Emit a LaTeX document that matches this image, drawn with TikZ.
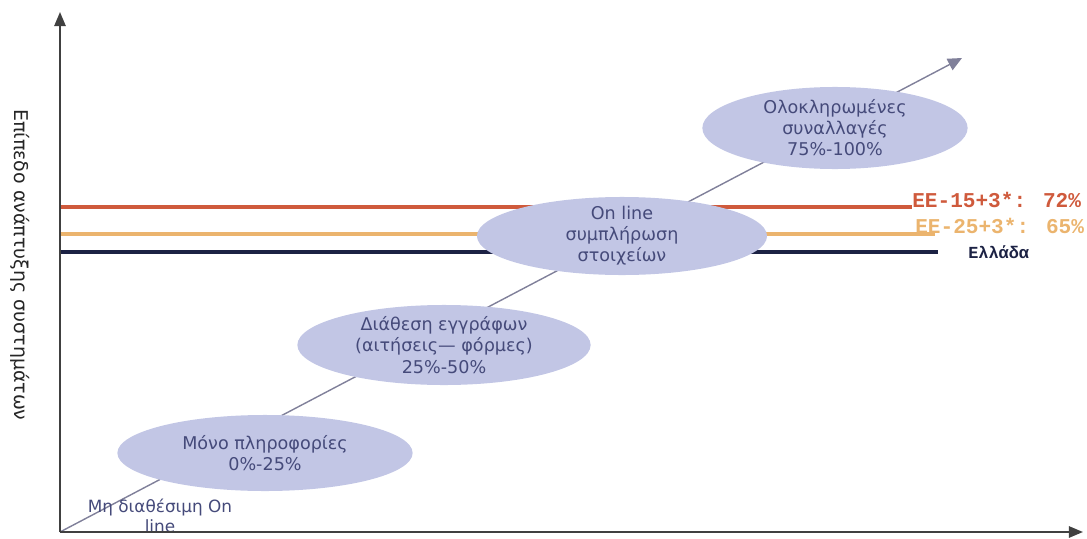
\documentclass[tikz,border=0pt]{standalone}
\usepackage{fontspec}
\setmainfont{DejaVu Sans}
\newfontfamily\tagfont{Liberation Mono}
\usetikzlibrary{arrows.meta,positioning,shapes.geometric}
\definecolor{stagefill}{HTML}{C2C6E5}
\definecolor{stagetext}{HTML}{454A7A}
\definecolor{trendgray}{HTML}{80809A}
\definecolor{euA}{HTML}{CF5A3C}
\definecolor{euB}{HTML}{EBB46E}
\definecolor{greece}{HTML}{1C2244}

\begin{document}
\begin{tikzpicture}[
  x=0.025cm, y=-0.025cm,
  axis/.style={-{Triangle[length=10pt,width=8pt]}, line width=1.4pt, draw=black!75},
  trend/.style={-{Triangle[length=10pt,width=9pt]}, line width=1pt, draw=trendgray},
  stage/.style={ellipse, fill=stagefill, text=stagetext, align=center, inner xsep=0pt, inner ysep=-3pt,
    font=\fontsize{12.5}{15}\selectfont},
  level/.style={line width=2.2pt},
  tag/.style={anchor=west, inner sep=0pt, font=\tagfont\bfseries\fontsize{15}{15}\selectfont}
]
\useasboundingbox (0,0) rectangle (1087,539);

% axes
\coordinate (O) at (60,532);
\coordinate (ytop) at (60,12);
\coordinate (xend) at (1083,532);
\coordinate (dend) at (962,58);
\node[rotate=-90, text=black!85, font=\fontsize{13.5}{15}\selectfont] (ylab) at (20,265) {Επίπεδο ανάπτυξης συστημάτων};

\draw[trend] (O) -- (dend);

% reference levels
\node[tag, text=euA] (eu15) at (912,200) {ΕΕ-15+3*: 72\%};
\node[tag, text=euB] (eu25) at (915,226) {ΕΕ-25+3*: 65\%};
\coordinate (grend) at (938,252);
\node[tag, text=greece, font=\tagfont\bfseries\fontsize{12}{12}\selectfont, right=0.75cm of grend] (gr) {Ελλάδα};

\draw[level, euA] (eu15.west -| O) ++(0,7) -- ([yshift=-7*0.025cm]eu15.west);
\draw[level, euB] (eu25.west -| O) ++(0,8) -- ([xshift=0.5cm,yshift=-8*0.025cm]eu25.west);
\draw[level, greece] (grend -| O) -- (grend);

% stages
\node[stage, minimum width=6.63cm, minimum height=2.05cm] (full) at (835,128) {Ολοκληρωμένες\\συναλλαγές\\75\%-100\%};
\node[stage, minimum width=7.25cm, minimum height=1.95cm] (online) at (622,236) {On line\\συμπλήρωση\\στοιχείων};
\node[stage, minimum width=7.33cm, minimum height=2.0cm] (docs) at (444,345) {Διάθεση εγγράφων\\(αιτήσεις— φόρμες)\\25\%-50\%};
\node[stage, minimum width=7.38cm, minimum height=1.9cm] (info) at (265,453) {Μόνο πληροφορίες\\0\%-25\%};
\node[text=stagetext, align=center, inner sep=0pt, font=\fontsize{12}{14}\selectfont] (none) at (160,516) {Μη διαθέσιμη On\\line};

\draw[axis] (O) -- (ytop);
\draw[axis] (O) -- (xend);

\end{tikzpicture}
\end{document}
